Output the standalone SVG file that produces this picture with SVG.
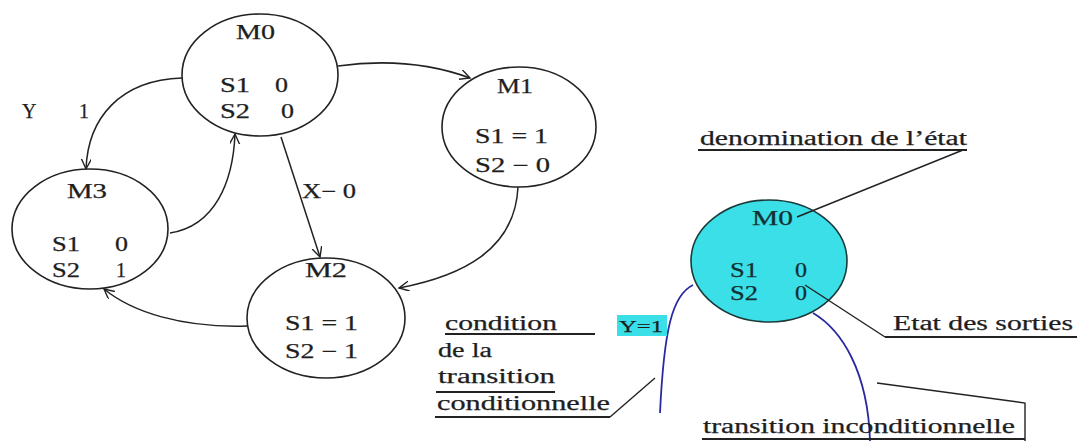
<svg xmlns="http://www.w3.org/2000/svg" width="1077" height="441" viewBox="0 0 1077 441">
<style>
text{font-family:"Liberation Serif","Times New Roman",serif;font-size:20px;fill:#1e1e1e;stroke:#1e1e1e;stroke-width:0.25}
.st{fill:#fff;stroke:#222;stroke-width:1.6}
.cy{fill:#3adfe8;stroke:#1a3a3a;stroke-width:1.6}
.ct text{fill:#143030;stroke:#143030}
.cn{fill:none;stroke:#222;stroke-width:1.5}
.bl{fill:none;stroke:#2a2aa0;stroke-width:1.8}
.ul{stroke:#222;stroke-width:2}
.ld{fill:none;stroke:#222;stroke-width:1.4}
</style>
<defs>
<marker id="ar" markerUnits="userSpaceOnUse" markerWidth="14" markerHeight="14" refX="10" refY="5" orient="auto">
<path d="M0,0 L10,5 L0,10" fill="none" stroke="#222" stroke-width="1.4"/>
</marker>
</defs>
<rect width="1077" height="441" fill="#fff"/>

<g id="connectors">
<path class="cn" d="M338,66 Q410,56 470,78" marker-end="url(#ar)"/>
<path class="cn" d="M182,78 C120,80 88,118 86,169" marker-end="url(#ar)"/>
<path class="cn" d="M170,233 C215,226 233,182 235,134" marker-end="url(#ar)"/>
<path class="cn" d="M281,137 L320,257" marker-end="url(#ar)"/>
<path class="cn" d="M518,187 C515,250 462,276 399,288" marker-end="url(#ar)"/>
<path class="cn" d="M247,326 C182,328 132,312 104,289" marker-end="url(#ar)"/>
<text x="22" y="118">Y<tspan x="79">1</tspan></text>
<text x="302" y="198" textLength="54" lengthAdjust="spacingAndGlyphs">X− 0</text>
</g>

<g id="M0">
<ellipse class="st" cx="260" cy="75" rx="78" ry="61"/>
<text x="236" y="39" textLength="39" lengthAdjust="spacingAndGlyphs">M0</text>
<text x="220" y="92" textLength="30" lengthAdjust="spacingAndGlyphs">S1</text>
<text x="275" y="92" textLength="13" lengthAdjust="spacingAndGlyphs">0</text>
<text x="220" y="118" textLength="30" lengthAdjust="spacingAndGlyphs">S2</text>
<text x="281" y="118" textLength="13" lengthAdjust="spacingAndGlyphs">0</text>
</g>

<g id="M1">
<ellipse class="st" cx="519" cy="127" rx="77" ry="60"/>
<text x="497" y="93" textLength="36" lengthAdjust="spacingAndGlyphs">M1</text>
<text x="475" y="143" textLength="73" lengthAdjust="spacingAndGlyphs">S1 = 1</text>
<text x="475" y="172" textLength="75" lengthAdjust="spacingAndGlyphs">S2 − 0</text>
</g>

<g id="M3">
<ellipse class="st" cx="90" cy="229" rx="78" ry="60"/>
<text x="67" y="198" textLength="40" lengthAdjust="spacingAndGlyphs">M3</text>
<text x="52" y="251" textLength="28" lengthAdjust="spacingAndGlyphs">S1</text>
<text x="115" y="251" textLength="13" lengthAdjust="spacingAndGlyphs">0</text>
<text x="52" y="277" textLength="28" lengthAdjust="spacingAndGlyphs">S2</text>
<text x="116" y="277">1</text>
</g>

<g id="M2">
<ellipse class="st" cx="326" cy="318" rx="79" ry="60"/>
<text x="305" y="277" textLength="42" lengthAdjust="spacingAndGlyphs">M2</text>
<text x="285" y="330" textLength="73" lengthAdjust="spacingAndGlyphs">S1 = 1</text>
<text x="285" y="358" textLength="73" lengthAdjust="spacingAndGlyphs">S2 − 1</text>
</g>

<g id="legend">
<path class="bl" d="M693,285 C672,295 664,330 660,413"/>
<path class="bl" d="M813,313 C842,330 868,372 870,441"/>
<g id="legendState" class="ct">
<ellipse class="cy" cx="769" cy="261" rx="78" ry="61"/>
<text x="752" y="225" textLength="41" lengthAdjust="spacingAndGlyphs">M0</text>
<text x="730" y="277" textLength="28" lengthAdjust="spacingAndGlyphs">S1</text>
<text x="795" y="277" textLength="12" lengthAdjust="spacingAndGlyphs">0</text>
<text x="730" y="300" textLength="28" lengthAdjust="spacingAndGlyphs">S2</text>
<text x="795" y="300" textLength="12" lengthAdjust="spacingAndGlyphs">0</text>
</g>
<text x="700" y="145" textLength="267" lengthAdjust="spacingAndGlyphs">denomination de l’état</text>
<line class="ul" x1="698" y1="150" x2="967" y2="150"/>
<path class="ld" d="M963,150 L797,217"/>

<text x="893" y="330" textLength="180" lengthAdjust="spacingAndGlyphs">Etat des sorties</text>
<line class="ul" x1="885" y1="337" x2="1077" y2="337"/>
<path class="ld" d="M885,337 L805,285"/>

<text x="703" y="433" textLength="312" lengthAdjust="spacingAndGlyphs">transition inconditionnelle</text>
<line class="ul" x1="702" y1="439" x2="1025" y2="439"/>
<path class="ld" d="M877,383 L1025,403 L1025,441"/>

<rect x="617" y="315" width="50" height="21" fill="#3adfe8"/>
<text x="619" y="332" style="font-size:17px" textLength="44" lengthAdjust="spacingAndGlyphs">Y=1</text>

<text x="445" y="330" textLength="112" lengthAdjust="spacingAndGlyphs">condition</text>
<line class="ul" x1="445" y1="334" x2="595" y2="334"/>
<text x="438" y="357" textLength="54" lengthAdjust="spacingAndGlyphs">de la</text>
<text x="438" y="383" textLength="117" lengthAdjust="spacingAndGlyphs">transition</text>
<line class="ul" x1="436" y1="392" x2="555" y2="392"/>
<text x="437" y="410" textLength="173" lengthAdjust="spacingAndGlyphs">conditionnelle</text>
<line class="ul" x1="435" y1="417" x2="610" y2="417"/>
<path class="ld" d="M610,417 L655,378"/>
</g>
</svg>
